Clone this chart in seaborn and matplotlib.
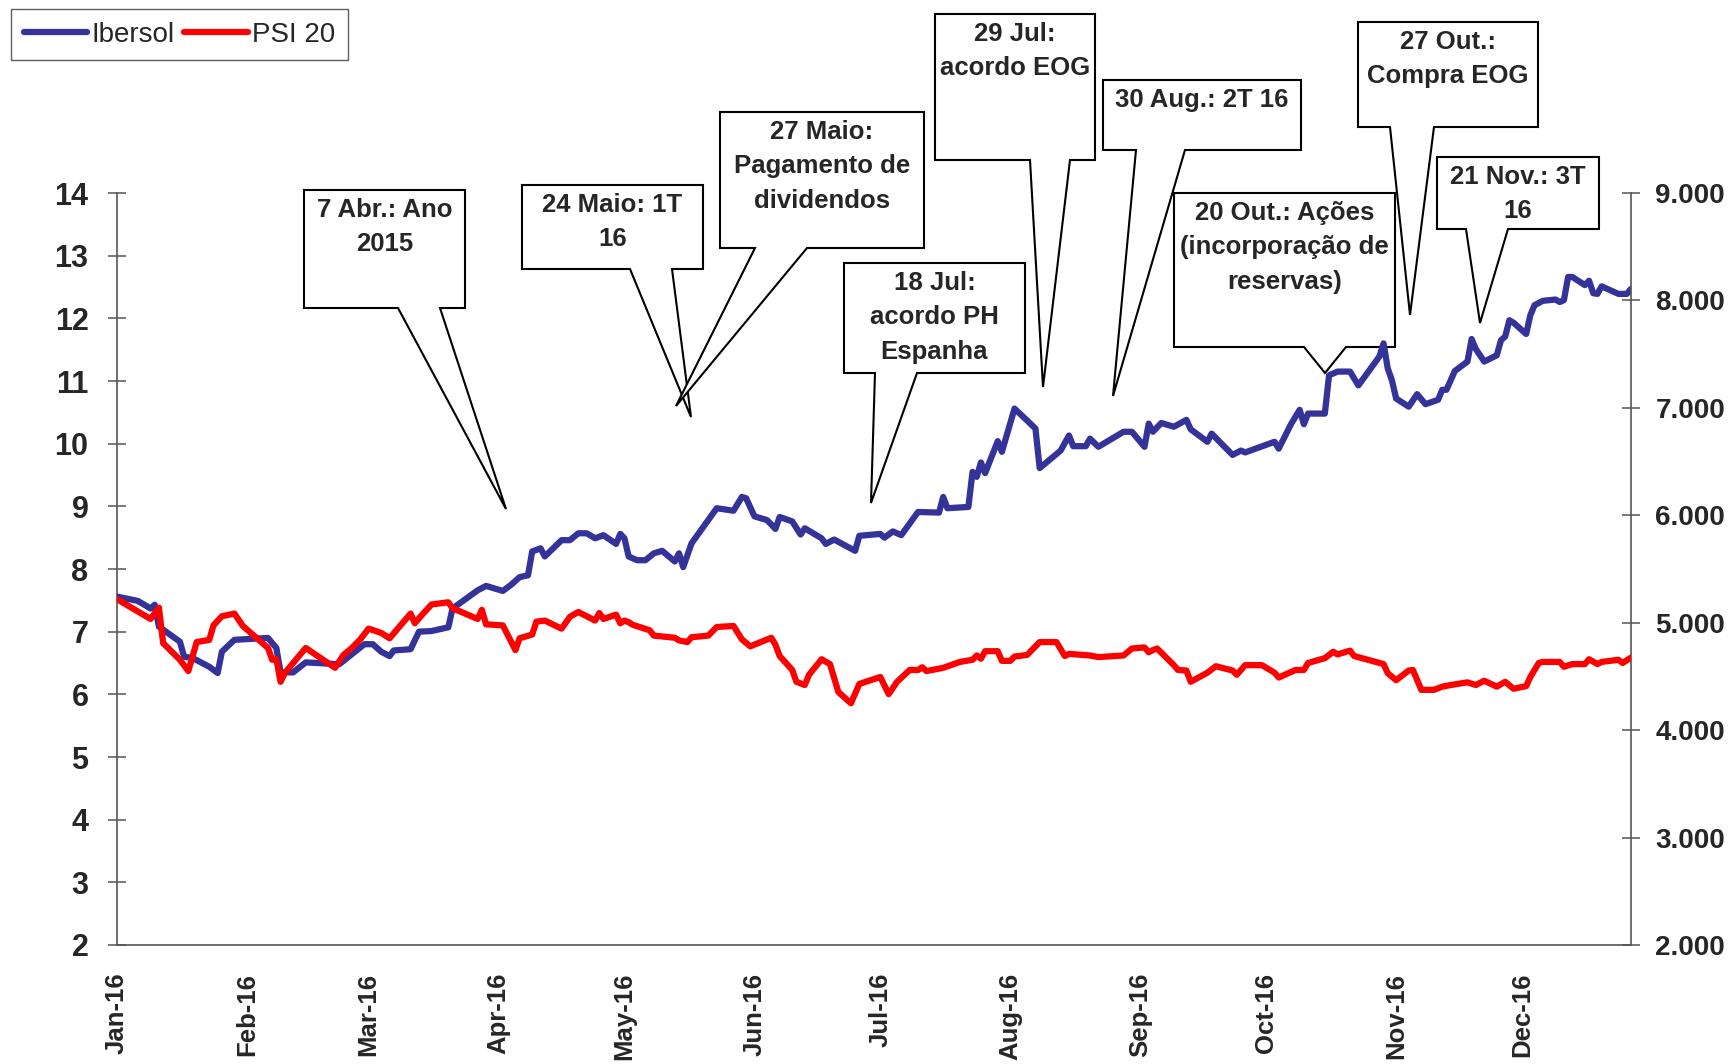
import numpy as np
import pandas as pd
import matplotlib
matplotlib.use("Agg")
import matplotlib.pyplot as plt
import matplotlib.dates as mdates
from matplotlib.patches import Polygon
from matplotlib.ticker import FixedLocator, FuncFormatter
from matplotlib.lines import Line2D
import seaborn as sns

# ---------------- data ----------------
ibersol_day = [0, 5, 8, 9, 10, 15, 16, 18, 22, 24,
               25, 28, 36, 38, 39, 42, 45, 53, 59, 61,
               63, 65, 66, 70, 72, 75, 79, 80, 86, 88,
               92, 94, 96, 98, 99, 101, 102, 106, 108, 110,
               112, 114, 116, 119, 120, 121, 122, 124, 126, 128,
               130, 133, 134, 135, 137, 143, 147, 149, 150, 152,
               155, 157, 158, 161, 163, 164, 168, 169, 171, 176,
               177, 182, 183, 185, 187, 191, 196, 197, 198, 203,
               204, 205, 206, 207, 210, 211, 214, 217, 219, 220,
               225, 227, 228, 231, 232, 234, 240, 242, 245, 246,
               247, 249, 252, 255, 256, 260, 261, 266, 268, 269,
               276, 277, 280, 282, 283, 284, 288, 289, 291, 294,
               296, 301, 302, 303, 304, 305, 308, 310, 312, 315,
               316, 317, 319, 322, 323, 324, 326, 329, 330, 331,
               332, 333, 336, 337, 338, 340, 343, 344, 345, 346,
               347, 350, 351, 352, 353, 354, 358, 360, 361]
ibersol_price = [7.56, 7.49, 7.37, 7.43, 7.08, 6.84, 6.60, 6.58, 6.44, 6.34,
                 6.68, 6.87, 6.90, 6.74, 6.35, 6.35, 6.51, 6.48, 6.80, 6.80,
                 6.68, 6.61, 6.70, 6.72, 7.00, 7.01, 7.07, 7.37, 7.66, 7.73,
                 7.65, 7.75, 7.87, 7.90, 8.28, 8.33, 8.20, 8.46, 8.46, 8.57,
                 8.57, 8.49, 8.54, 8.40, 8.56, 8.49, 8.20, 8.14, 8.14, 8.25,
                 8.29, 8.12, 8.25, 8.03, 8.41, 8.97, 8.93, 9.15, 9.13, 8.84,
                 8.78, 8.64, 8.83, 8.76, 8.55, 8.65, 8.49, 8.40, 8.47, 8.29,
                 8.53, 8.56, 8.50, 8.60, 8.54, 8.91, 8.90, 9.15, 8.97, 8.99,
                 9.55, 9.47, 9.70, 9.53, 10.04, 9.87, 10.56, 10.37, 10.24, 9.61,
                 9.89, 10.13, 9.96, 9.96, 10.08, 9.95, 10.19, 10.19, 9.95, 10.32,
                 10.19, 10.33, 10.27, 10.38, 10.23, 10.03, 10.16, 9.82, 9.89, 9.86,
                 10.03, 9.92, 10.32, 10.54, 10.31, 10.48, 10.48, 11.09, 11.15, 11.15,
                 10.93, 11.39, 11.60, 11.20, 11.01, 10.72, 10.59, 10.79, 10.63, 10.70,
                 10.86, 10.86, 11.16, 11.31, 11.67, 11.51, 11.31, 11.41, 11.65, 11.71,
                 11.97, 11.93, 11.75, 12.05, 12.21, 12.28, 12.30, 12.26, 12.29, 12.66,
                 12.66, 12.53, 12.60, 12.40, 12.39, 12.51, 12.39, 12.39, 12.47]

psi_day = [0, 3, 8, 10, 11, 15, 17, 19, 22, 23,
           25, 28, 30, 36, 37, 38, 39, 40, 42, 45,
           52, 54, 56, 58, 60, 63, 65, 70, 71, 73,
           75, 79, 80, 86, 87, 88, 92, 95, 96, 99,
           100, 102, 106, 108, 110, 114, 115, 116, 119, 120,
           121, 122, 123, 127, 128, 133, 134, 136, 137, 141,
           143, 147, 149, 151, 156, 157, 158, 161, 162, 164,
           165, 168, 170, 172, 175, 177, 182, 184, 186, 189,
           191, 192, 193, 197, 201, 204, 205, 206, 207, 210,
           211, 213, 214, 217, 220, 224, 226, 227, 232, 234,
           240, 242, 245, 246, 247, 248, 252, 253, 255, 256,
           260, 262, 266, 267, 269, 273, 276, 277, 281, 283,
           284, 288, 290, 291, 294, 295, 302, 303, 305, 308,
           309, 311, 314, 316, 318, 322, 324, 326, 329, 331,
           333, 336, 337, 339, 340, 344, 345, 347, 350, 351,
           353, 354, 358, 359, 361]
psi_index = [5220, 5150, 5035, 5140, 4810, 4655, 4550, 4820, 4840, 4975,
             5060, 5085, 4970, 4765, 4655, 4660, 4450, 4530, 4625, 4765,
             4580, 4700, 4765, 4845, 4945, 4905, 4855, 5085, 4995, 5085,
             5170, 5190, 5135, 5035, 5120, 4985, 4975, 4745, 4855, 4890,
             5010, 5020, 4945, 5055, 5100, 5020, 5090, 5035, 5075, 4995,
             5020, 5005, 4980, 4930, 4880, 4860, 4835, 4820, 4865, 4880,
             4960, 4970, 4845, 4780, 4860, 4795, 4690, 4560, 4450, 4420,
             4515, 4660, 4615, 4355, 4250, 4430, 4495, 4335, 4450, 4560,
             4560, 4585, 4550, 4580, 4635, 4655, 4695, 4665, 4735, 4735,
             4645, 4645, 4685, 4700, 4820, 4820, 4690, 4710, 4695, 4680,
             4695, 4760, 4770, 4725, 4745, 4760, 4605, 4560, 4555, 4450,
             4535, 4595, 4555, 4515, 4605, 4605, 4535, 4490, 4560, 4560,
             4625, 4670, 4730, 4705, 4740, 4690, 4615, 4530, 4465, 4555,
             4560, 4375, 4375, 4405, 4420, 4445, 4420, 4460, 4405, 4450,
             4385, 4410, 4495, 4625, 4635, 4635, 4590, 4615, 4615, 4660,
             4615, 4635, 4655, 4625, 4675]

series_names = ["Ibersol", "PSI 20"]
start_date = "2016-01-01"
end_day = 361
month_ticks = ["2016-01-01", "2016-02-01", "2016-03-01", "2016-04-01",
               "2016-05-01", "2016-06-01", "2016-07-01", "2016-08-01",
               "2016-09-01", "2016-10-01", "2016-11-01", "2016-12-01"]
left_ticks = [2, 3, 4, 5, 6, 7, 8, 9, 10, 11, 12, 13, 14]
right_ticks = [2000, 3000, 4000, 5000, 6000, 7000, 8000, 9000]

callout_texts = ["7 Abr.: Ano\n2015",
                 "24 Maio: 1T\n16",
                 "27 Maio:\nPagamento de\ndividendos",
                 "18 Jul:\nacordo PH\nEspanha",
                 "29 Jul:\nacordo EOG",
                 "30 Aug.: 2T 16",
                 "20 Out.: Ações\n(incorporação de\nreservas)",
                 "27 Out.:\nCompra EOG",
                 "21 Nov.: 3T\n16"]

# layout of the callouts, in pixels of the 1733x1064 canvas (top-left origin)
callout_boxes = [(304, 190, 465, 308), (522, 185, 703, 269), (720, 112, 924, 248),
                 (844, 263, 1025, 373), (935, 14, 1095, 160), (1103, 80, 1301, 150),
                 (1174, 193, 1395, 347), (1358, 22, 1538, 127), (1437, 157, 1599, 229)]
callout_bases = [(398, 440), (630, 672), (755, 807), (875, 917), (1030, 1070),
                 (1136, 1185), (1304, 1346), (1390, 1434), (1466, 1508)]
callout_tips = [(506, 509), (691, 417), (676, 406), (871, 503), (1043, 387),
                (1113, 396), (1325, 373), (1410, 315), (1480, 323)]

# ---------------- build ----------------
base = pd.Timestamp(start_date)
df_ib = pd.DataFrame({"date": base + pd.to_timedelta(ibersol_day, unit="D"),
                      "value": ibersol_price})
df_psi = pd.DataFrame({"date": base + pd.to_timedelta(psi_day, unit="D"),
                       "value": psi_index})

sns.set_theme(style="white")
plt.rcParams["font.family"] = ["Liberation Sans", "DejaVu Sans"]

W, H = 1733, 1064
fig = plt.figure(figsize=(W / 100, H / 100), dpi=100)
ax = fig.add_axes([117 / W, 1 - 945 / H, (1631 - 117) / W, (945 - 193) / H])
ax2 = ax.twinx()

blue = "#333399"
red = "#FF0000"
sns.lineplot(data=df_ib, x="date", y="value", ax=ax, color=blue, linewidth=4.5,
             zorder=5, legend=False)
sns.lineplot(data=df_psi, x="date", y="value", ax=ax2, color=red, linewidth=4.5,
             zorder=5, legend=False)

ax.set_xlim(base, base + pd.Timedelta(days=end_day))
ax.set_ylim(2, 14)
ax2.set_ylim(2000, 9000)
ax.set_xlabel("")
ax.set_ylabel("")
ax2.set_ylabel("")

ax.xaxis.set_major_locator(FixedLocator(mdates.date2num(pd.to_datetime(month_ticks))))
ax.xaxis.set_major_formatter(mdates.DateFormatter("%b-%y"))
ax.yaxis.set_major_locator(FixedLocator(left_ticks))
ax.yaxis.set_major_formatter(FuncFormatter(lambda v, p: f"{v:.0f}"))
ax2.yaxis.set_major_locator(FixedLocator(right_ticks))
ax2.yaxis.set_major_formatter(FuncFormatter(lambda v, p: f"{v:,.0f}".replace(",", ".")))

spine_c = "#555555"
for a in (ax, ax2):
    a.grid(False)
    a.spines["top"].set_visible(False)
    for s in a.spines.values():
        s.set_color(spine_c)
        s.set_linewidth(1.2)
ax.spines["right"].set_visible(False)
ax2.spines["left"].set_visible(False)
ax2.spines["bottom"].set_visible(False)
ax.patch.set_alpha(0)

ax.tick_params(axis="x", direction="inout", length=22, width=1.1, color=spine_c,
               pad=9, labelsize=18.5, rotation=90)
ax.tick_params(axis="y", direction="inout", length=13, width=1.1, color=spine_c,
               pad=14, labelsize=22)
ax2.tick_params(axis="y", direction="inout", length=13, width=1.1, color=spine_c,
                pad=11, labelsize=20)
for lab in ax.get_xticklabels() + ax.get_yticklabels() + ax2.get_yticklabels():
    lab.set_fontweight("bold")

# ---------------- callouts ----------------
def fx(x):
    return x / W


def fy(y):
    return 1 - y / H


for txt, (x0, y0, x1, y1), (bl, br), (tx, ty) in zip(callout_texts, callout_boxes,
                                                      callout_bases, callout_tips):
    verts = [(x0, y0), (x1, y0), (x1, y1), (br, y1), (tx, ty), (bl, y1), (x0, y1)]
    poly = Polygon([(fx(x), fy(y)) for x, y in verts], closed=True,
                   facecolor="white", edgecolor="black", linewidth=1.5,
                   transform=fig.transFigure, clip_on=False, zorder=2)
    ax.add_patch(poly)
    ax.text(fx((x0 + x1) / 2), fy(y0 + 8), txt, transform=fig.transFigure,
            ha="center", va="top", fontsize=18.5, fontweight="bold",
            linespacing=1.55, zorder=3, clip_on=False)

# ---------------- legend ----------------
handles = [Line2D([], [], color=blue, lw=4.5, solid_capstyle="round"),
           Line2D([], [], color=red, lw=4.5, solid_capstyle="round")]
leg = fig.legend(handles, series_names, loc="upper left",
                 bbox_to_anchor=(11 / W, 1 - 9 / H), ncol=2, frameon=True,
                 fancybox=False, shadow=False, handlelength=2.3, handletextpad=0.15,
                 columnspacing=0.35, borderpad=0.45, borderaxespad=0,
                 prop={"size": 20})
leg.get_frame().set_edgecolor("#333333")
leg.get_frame().set_linewidth(1.0)

fig.savefig("out.png", dpi=100)
